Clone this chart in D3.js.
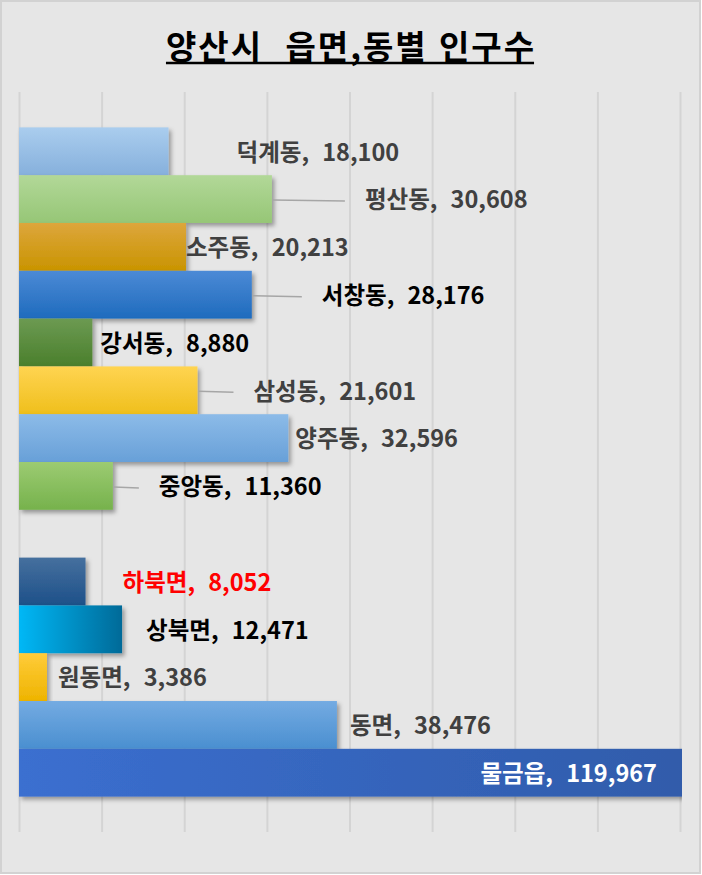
<!DOCTYPE html>
<html lang="ko">
<head>
<meta charset="utf-8">
<script src="https://cdn.jsdelivr.net/npm/d3@7"></script>
<style>
  body { margin: 0; background: #fff; }
  text { font-family: "Noto Sans CJK KR", "Noto Sans", sans-serif; }
</style>
</head>
<body>
<div id="chart"></div>
<script>
// data
const chartTitle = "양산시  읍면,동별 인구수";
const dongNames = ["덕계동", "평산동", "소주동", "서창동", "강서동", "삼성동", "양주동", "중앙동"];
const dongValues = [18100, 30608, 20213, 28176, 8880, 21601, 32596, 11360];
const eupmyeonNames = ["하북면", "상북면", "원동면", "동면", "물금읍"];
const eupmyeonValues = [8052, 12471, 3386, 38476, 119967];

// styles (same order as the bars, top to bottom)
const barFills = [
  ["v", "#aacdee", "#86b0dc"],
  ["v", "#b2d898", "#96c676"],
  ["v", "#dda63c", "#c99400"],
  ["v", "#4c8ad6", "#1e6bbd"],
  ["v", "#6c9a52", "#4a7f2c"],
  ["v", "#ffd451", "#efbf1c"],
  ["v", "#8cbbe8", "#68a0d8"],
  ["v", "#9ccb72", "#76b24c"],
  ["v", "#46709e", "#1d5089"],
  ["h", "#00b8f6", "#006a98"],
  ["v", "#ffcc3a", "#eeb400"],
  ["v", "#74abe2", "#4a8fd0"],
  ["h", "#3b6fd0", "#2b5298"]
];
const labelColors = ["#404040", "#404040", "#404040", "#000", "#000", "#404040", "#404040", "#000",
                     "#ff0000", "#000", "#404040", "#404040", "#fff"];
// label offset from bar end in px, and whether a leader line is drawn
const labelDx = [68, 93, 0, 70, 8, 56, 7, 46, 37, 24, 11, 13, -24];
const labelLeader = [false, true, false, true, false, true, false, true, false, false, false, false, false];

const width = 702, height = 875;
const plot = { left: 19, right: 681, top: 92, bottom: 832 };

const rows = [
  ...dongNames.map((n, i) => ({ key: n, name: n, value: dongValues[i] })),
  { key: "__gap", name: null, value: null },
  ...eupmyeonNames.map((n, i) => ({ key: n, name: n, value: eupmyeonValues[i] }))
];
const bars = rows.filter((d) => d.name !== null);
bars.forEach((d, i) => (d.i = i));

const svg = d3.select("#chart")
  .append("svg")
  .attr("width", width)
  .attr("height", height);

const defs = svg.append("defs");

barFills.forEach((f, i) => {
  const g = defs.append("linearGradient")
    .attr("id", `grad${i}`)
    .attr("x1", 0).attr("y1", 0)
    .attr("x2", f[0] === "h" ? 1 : 0)
    .attr("y2", f[0] === "h" ? 0 : 1);
  g.append("stop").attr("offset", "0%").attr("stop-color", f[1]);
  g.append("stop").attr("offset", "100%").attr("stop-color", f[2]);
});

const shadow = defs.append("filter")
  .attr("id", "shadow")
  .attr("x", "-10%").attr("y", "-20%")
  .attr("width", "130%").attr("height", "160%");
shadow.append("feDropShadow")
  .attr("dx", 2.5).attr("dy", 3)
  .attr("stdDeviation", 2)
  .attr("flood-color", "#000")
  .attr("flood-opacity", 0.35);

defs.append("clipPath")
  .attr("id", "plotClip")
  .append("rect")
  .attr("x", 0).attr("y", plot.top)
  .attr("width", plot.right + 1).attr("height", plot.bottom - plot.top + 20);

// background + border
svg.append("rect")
  .attr("x", 1).attr("y", 1)
  .attr("width", width - 3).attr("height", height - 3)
  .attr("fill", "#e6e6e6")
  .attr("stroke", "#d2d2d2")
  .attr("stroke-width", 2);

// scales
const xScale = d3.scaleLinear().domain([0, 80000]).range([plot.left, plot.right - 1]);
const yScale = d3.scaleBand()
  .domain(rows.map((d) => d.key))
  .range([plot.top, plot.bottom])
  .paddingInner(0)
  .paddingOuter(0.74);

// vertical gridlines
const xGrid = d3.axisBottom(xScale)
  .ticks(8)
  .tickSize(-(plot.bottom - plot.top))
  .tickFormat("");

svg.append("g")
  .attr("class", "grid")
  .attr("transform", `translate(0,${plot.bottom})`)
  .call(xGrid)
  .call((g) => g.select(".domain").remove())
  .call((g) => g.selectAll(".tick line").attr("stroke", "#d4d4d4").attr("stroke-width", 2));

// title
const title = svg.append("text")
  .attr("x", width / 2)
  .attr("y", 59)
  .attr("text-anchor", "middle")
  .attr("font-size", 33)
  .attr("font-weight", "bold")
  .attr("letter-spacing", 2)
  .attr("fill", "#000")
  .style("white-space", "pre")
  .text(chartTitle);

const tb = title.node().getBBox();
svg.append("line")
  .attr("x1", tb.x).attr("x2", tb.x + tb.width - 2)
  .attr("y1", 63).attr("y2", 63)
  .attr("stroke", "#000")
  .attr("stroke-width", 2.5);

// bars
const barGroup = svg.append("g").attr("clip-path", "url(#plotClip)");

barGroup.selectAll("rect")
  .data(bars)
  .join("rect")
  .attr("x", xScale(0))
  .attr("y", (d) => yScale(d.key))
  .attr("width", (d) => xScale(d.value) - xScale(0))
  .attr("height", yScale.bandwidth())
  .attr("fill", (d) => `url(#grad${d.i})`)
  .attr("filter", "url(#shadow)");

// labels
const barEnd = (d) => Math.min(xScale(d.value), plot.right);
const fmt = d3.format(",");

svg.append("g")
  .selectAll("line")
  .data(bars.filter((d) => labelLeader[d.i]))
  .join("line")
  .attr("x1", (d) => barEnd(d) + 1)
  .attr("x2", (d) => barEnd(d) + labelDx[d.i] - 20)
  .attr("y1", (d) => yScale(d.key) + yScale.bandwidth() / 2 + 1)
  .attr("y2", (d) => yScale(d.key) + yScale.bandwidth() / 2 + 2)
  .attr("stroke", "#a6a6a6")
  .attr("stroke-width", 1.5);

svg.append("g")
  .selectAll("text")
  .data(bars)
  .join("text")
  .attr("x", (d) => barEnd(d) + labelDx[d.i])
  .attr("y", (d) => yScale(d.key) + yScale.bandwidth() / 2 + 3)
  .attr("dominant-baseline", "middle")
  .attr("text-anchor", (d) => (labelDx[d.i] < 0 ? "end" : "start"))
  .attr("font-size", 23.5)
  .attr("font-weight", "bold")
  .attr("fill", (d) => labelColors[d.i])
  .style("white-space", "pre")
  .text((d) => `${d.name},  ${fmt(d.value)}`);
</script>
</body>
</html>
